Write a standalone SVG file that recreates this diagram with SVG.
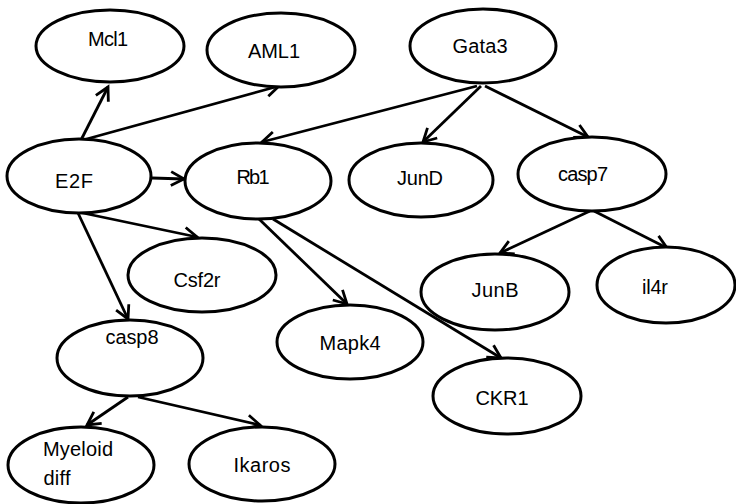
<svg xmlns="http://www.w3.org/2000/svg" width="736" height="504" viewBox="0 0 736 504">
<defs>
<style>
.n ellipse{fill:#fff;stroke:#000;stroke-width:3}
.n text{font-family:"Liberation Sans",Arial,sans-serif;font-size:20px;fill:#000;text-anchor:middle}
.e line{stroke:#000;stroke-width:2.8;fill:none;marker-end:url(#ah)}
</style>
<marker id="ah" markerUnits="userSpaceOnUse" markerWidth="18" markerHeight="18" refX="14" refY="8" orient="auto" viewBox="0 0 18 16">
<path d="M1,1 L14,8 L1,15" fill="none" stroke="#000" stroke-width="2.8"/>
</marker>
</defs>
<rect width="736" height="504" fill="#fff"/>
<g id="connectors" class="e">
<line x1="81" y1="140" x2="108" y2="87"/>
<line x1="83" y1="140" x2="279" y2="86"/>
<line x1="152" y1="178" x2="184" y2="179"/>
<line x1="477" y1="86" x2="262" y2="142"/>
<line x1="481" y1="86" x2="423" y2="142"/>
<line x1="485" y1="86" x2="588" y2="137"/>
<line x1="78" y1="212" x2="197" y2="237"/>
<line x1="78" y1="213" x2="128" y2="319"/>
<line x1="259" y1="219" x2="347" y2="304"/>
<line x1="273" y1="219" x2="501" y2="358"/>
<line x1="590" y1="211" x2="500" y2="253"/>
<line x1="594" y1="211" x2="667" y2="248"/>
<line x1="128" y1="397" x2="87" y2="425"/>
<line x1="138" y1="397" x2="260" y2="425"/>
</g>
<g id="Mcl1" class="n"><ellipse cx="110" cy="46" rx="74" ry="36"/><text x="108" y="46" textLength="40">Mcl1</text></g>
<g id="AML1" class="n"><ellipse cx="281" cy="50" rx="74" ry="37"/><text x="274" y="58" textLength="52">AML1</text></g>
<g id="Gata3" class="n"><ellipse cx="483" cy="46" rx="73" ry="37"/><text x="480" y="53" textLength="55">Gata3</text></g>
<g id="E2F" class="n"><ellipse cx="79" cy="176" rx="72" ry="37"/><text x="74" y="188" textLength="38">E2F</text></g>
<g id="Rb1" class="n"><ellipse cx="258" cy="181" rx="73" ry="38"/><text x="253" y="184" textLength="33">Rb1</text></g>
<g id="JunD" class="n"><ellipse cx="421" cy="180" rx="72" ry="37"/><text x="420" y="185" textLength="46">JunD</text></g>
<g id="casp7" class="n"><ellipse cx="592" cy="174" rx="74" ry="37"/><text x="583" y="181" textLength="50">casp7</text></g>
<g id="Csf2r" class="n"><ellipse cx="202" cy="275" rx="74" ry="37"/><text x="197" y="287" textLength="47">Csf2r</text></g>
<g id="casp8" class="n"><ellipse cx="130" cy="358" rx="73" ry="38"/><text x="132" y="344" textLength="53">casp8</text></g>
<g id="Mapk4" class="n"><ellipse cx="350" cy="342" rx="73" ry="37"/><text x="350" y="350" textLength="61">Mapk4</text></g>
<g id="JunB" class="n"><ellipse cx="495" cy="292" rx="74" ry="38"/><text x="495" y="297" textLength="47">JunB</text></g>
<g id="il4r" class="n"><ellipse cx="666" cy="285" rx="69" ry="38"/><text x="655" y="294" textLength="26">il4r</text></g>
<g id="CKR1" class="n"><ellipse cx="507" cy="396" rx="74" ry="38"/><text x="502" y="405" textLength="53">CKR1</text></g>
<g id="Myeloid_diff" class="n"><ellipse cx="81" cy="465" rx="73" ry="38"/><text x="78" y="456" textLength="70">Myeloid</text><text x="57" y="485" textLength="27">diff</text></g>
<g id="Ikaros" class="n"><ellipse cx="262" cy="464" rx="73" ry="37"/><text x="262" y="472" textLength="57">Ikaros</text></g>
</svg>
